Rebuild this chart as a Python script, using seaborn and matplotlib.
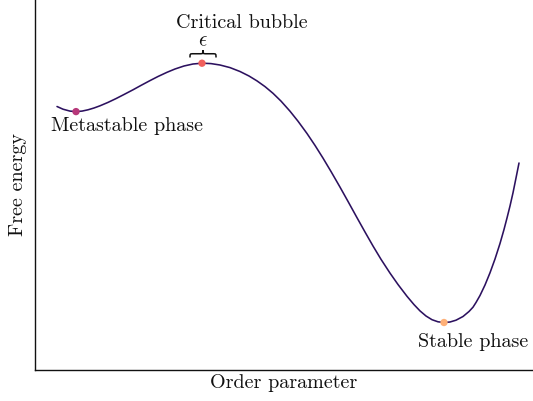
import numpy as np
import pandas as pd
import matplotlib
matplotlib.use('Agg')
import matplotlib.pyplot as plt
from matplotlib.path import Path
from matplotlib.patches import PathPatch
import seaborn as sns

# free energy curve
order_param = [0.22, 0.28, 0.35, 0.41, 0.47, 0.53, 0.59, 0.65, 0.73, 0.81,
               0.89, 0.98, 1.06, 1.15, 1.23, 1.32, 1.40, 1.49, 1.58, 1.67,
               1.76, 1.85, 1.95, 2.05, 2.14, 2.22, 2.30, 2.38, 2.46, 2.55,
               2.63, 2.72, 2.80, 2.88, 2.96, 3.05, 3.13, 3.22, 3.30, 3.38,
               3.46, 3.55, 3.63, 3.72, 3.79, 3.85, 3.91, 3.97, 4.03, 4.09,
               4.15, 4.21, 4.28, 4.34, 4.38, 4.41, 4.45, 4.50, 4.55, 4.60,
               4.65, 4.69, 4.72, 4.75, 4.78, 4.81, 4.84]
free_energy = [2.635, 2.608, 2.589, 2.584, 2.589, 2.602, 2.620, 2.642, 2.676, 2.714,
               2.755, 2.802, 2.846, 2.894, 2.935, 2.977, 3.010, 3.040, 3.060, 3.068,
               3.064, 3.050, 3.024, 2.985, 2.940, 2.891, 2.834, 2.767, 2.689, 2.588,
               2.488, 2.365, 2.246, 2.119, 1.985, 1.829, 1.686, 1.523, 1.380, 1.240,
               1.107, 0.969, 0.855, 0.737, 0.654, 0.591, 0.540, 0.503, 0.482, 0.475,
               0.480, 0.498, 0.535, 0.585, 0.628, 0.675, 0.745, 0.850, 0.972, 1.110,
               1.265, 1.405, 1.520, 1.640, 1.772, 1.920, 2.070]

# special points
phase_names = ['Metastable phase', 'Critical bubble', 'Stable phase']
phase_x = [0.41, 1.67, 4.09]
phase_y = [2.584, 3.068, 0.475]

sns.set_theme(style='white')
plt.rcParams['font.family'] = ['cmr10', 'DejaVu Serif']
plt.rcParams['mathtext.fontset'] = 'cm'
plt.rcParams['axes.unicode_minus'] = False
plt.rcParams['axes.formatter.use_mathtext'] = True

pal = sns.color_palette('magma', 5)

df = pd.DataFrame({'x': order_param, 'F': free_energy})
pts = pd.DataFrame({'x': phase_x, 'F': phase_y, 'name': phase_names})

fig = plt.figure(figsize=(5.33, 4.01), dpi=100)
ax = fig.add_axes([35 / 533, 31 / 401, 498 / 533, 370 / 401])

sns.lineplot(data=df, x='x', y='F', color=pal[0], lw=1.15, ax=ax)
sns.scatterplot(data=pts, x='x', y='F', hue='name',
                palette=[pal[2], pal[3], pal[4]], s=28, linewidth=0,
                legend=False, zorder=3, ax=ax)

ax.set_xlim(0, 4.98)
ax.set_ylim(0, 3.70)
ax.set_xticks([])
ax.set_yticks([])
sns.despine(ax=ax)
for s in ['left', 'bottom']:
    ax.spines[s].set_color('#111111')
    ax.spines[s].set_linewidth(1.0)

fs = 14.5
tc = '#111111'
ax.set_xlabel('Order parameter', fontsize=fs, color=tc, labelpad=3)
ax.set_ylabel('Free energy', fontsize=fs, color=tc, labelpad=6)

ax.text(0.92, 2.44, 'Metastable phase', fontsize=fs, color=tc,
        ha='center', va='center')
ax.text(2.07, 3.465, 'Critical bubble', fontsize=fs, color=tc,
        ha='center', va='center')
ax.text(4.38, 0.28, 'Stable phase', fontsize=fs, color=tc,
        ha='center', va='center')
ax.text(1.68, 3.285, r'$\epsilon$', fontsize=15, color=tc,
        ha='center', va='center')

# curly brace over the critical bubble
x0, x1 = 1.55, 1.81
xm = (x0 + x1) / 2
yb, yt = 3.125, 3.20
ym = (yb + yt) / 2
r = 0.035
verts = [(x0, yb), (x0, ym), (x0, ym), (x0 + r, ym),
         (xm - r, ym),
         (xm, ym), (xm, ym), (xm, yt),
         (xm, ym), (xm, ym), (xm + r, ym),
         (x1 - r, ym),
         (x1, ym), (x1, ym), (x1, yb)]
codes = [Path.MOVETO, Path.CURVE4, Path.CURVE4, Path.CURVE4,
         Path.LINETO,
         Path.CURVE4, Path.CURVE4, Path.CURVE4,
         Path.CURVE4, Path.CURVE4, Path.CURVE4,
         Path.LINETO,
         Path.CURVE4, Path.CURVE4, Path.CURVE4]
ax.add_patch(PathPatch(Path(verts, codes), fc='none', ec=tc, lw=1.1))

fig.savefig('out.png', dpi=100)
